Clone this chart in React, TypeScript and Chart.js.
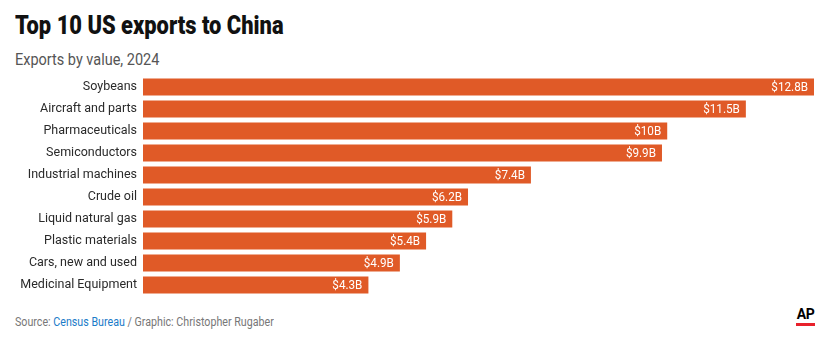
import React, { useEffect, useRef } from "react";
import { Chart, registerables } from "chart.js";

Chart.register(...registerables);

const categories = [
  "Soybeans",
  "Aircraft and parts",
  "Pharmaceuticals",
  "Semiconductors",
  "Industrial machines",
  "Crude oil",
  "Liquid natural gas",
  "Plastic materials",
  "Cars, new and used",
  "Medicinal Equipment",
];
const values = [12.8, 11.5, 10, 9.9, 7.4, 6.2, 5.9, 5.4, 4.9, 4.3];
const valueLabels = ["$12.8B", "$11.5B", "$10B", "$9.9B", "$7.4B", "$6.2B", "$5.9B", "$5.4B", "$4.9B", "$4.3B"];

const BAR_COLOR = "#e05a27";
const LABEL_FONT = "Roboto, 'Liberation Sans', sans-serif";

const valueLabelPlugin = {
  id: "valueLabels",
  afterDatasetsDraw(chart: any) {
    const ctx = chart.ctx;
    const meta = chart.getDatasetMeta(0);
    ctx.save();
    ctx.font = `13px ${LABEL_FONT}`;
    ctx.fillStyle = "#ffffff";
    ctx.textAlign = "right";
    ctx.textBaseline = "middle";
    meta.data.forEach((bar: any, i: number) => {
      ctx.save();
      ctx.translate(bar.x - 6, bar.y + 0.5);
      ctx.scale(0.9, 1);
      ctx.fillText(valueLabels[i], 0, 0);
      ctx.restore();
    });
    ctx.restore();
  },
};

export default function App() {
  const ref = useRef<HTMLCanvasElement | null>(null);
  useEffect(() => {
    if (!ref.current) return;
    const chart = new Chart(ref.current, {
      type: "bar",
      data: {
        labels: categories,
        datasets: [
          {
            data: values,
            backgroundColor: BAR_COLOR,
            borderWidth: 0,
            categoryPercentage: 1,
            barPercentage: 0.77,
          },
        ],
      },
      options: {
        indexAxis: "y",
        animation: false,
        responsive: false,
        maintainAspectRatio: false,
        layout: { padding: { left: 0, right: 14, top: 0, bottom: 0 } },
        plugins: { legend: { display: false }, tooltip: { enabled: false } },
        scales: {
          x: { display: false, min: 0, max: 12.8 },
          y: {
            grid: { display: false, drawTicks: false },
            border: { display: false },
            ticks: {
              color: "#2a2a2a",
              font: { family: LABEL_FONT, size: 12.5 },
              padding: 6,
            },
            afterFit(scale: any) {
              scale.width = 143;
              scale.paddingTop = 0;
              scale.paddingBottom = 0;
            },
          },
        },
      },
      plugins: [valueLabelPlugin],
    });
    return () => chart.destroy();
  }, []);

  return (
    <div style={{ position: "fixed", left: 0, top: 0, width: 828, height: 352, background: "#fff", overflow: "hidden" }}>
      <div
        style={{
          position: "absolute",
          left: 15,
          top: 10,
          fontFamily: "Roboto, sans-serif",
          fontWeight: 900,
          fontSize: 25,
          color: "#111",
          whiteSpace: "nowrap",
          lineHeight: "32px",
          transform: "scaleX(0.875)",
          transformOrigin: "0 0",
        }}
      >
        Top 10 US exports to China
      </div>
      <div
        style={{
          position: "absolute",
          left: 15,
          top: 49.5,
          fontFamily: "Roboto, sans-serif",
          fontSize: 16,
          color: "#555",
          whiteSpace: "nowrap",
          lineHeight: "20px",
          transform: "scaleX(0.905)",
          transformOrigin: "0 0",
        }}
      >
        Exports by value, 2024
      </div>
      <canvas ref={ref} width={828} height={220} style={{ position: "absolute", left: 0, top: 76, width: 828, height: 220 }} />
      <div
        style={{
          position: "absolute",
          left: 15,
          top: 313.6,
          fontFamily: "Roboto, sans-serif",
          fontSize: 12,
          color: "#777",
          whiteSpace: "nowrap",
          lineHeight: "16px",
          transform: "scaleX(0.89)",
          transformOrigin: "0 0",
        }}
      >
        Source: <span style={{ color: "#1a7bc8" }}>Census Bureau</span> / Graphic: Christopher Rugaber
      </div>
      <div
        style={{
          position: "absolute",
          left: 796,
          top: 307.2,
          width: 19,
          fontFamily: "Roboto, sans-serif",
          fontWeight: 700,
          fontSize: 14,
          color: "#000",
          lineHeight: "14px",
          textAlign: "center",
          letterSpacing: -0.5,
        }}
      >
        AP
        <div style={{ height: 2.5, background: "#e8212b", marginTop: 2 }} />
      </div>
    </div>
  );
}
